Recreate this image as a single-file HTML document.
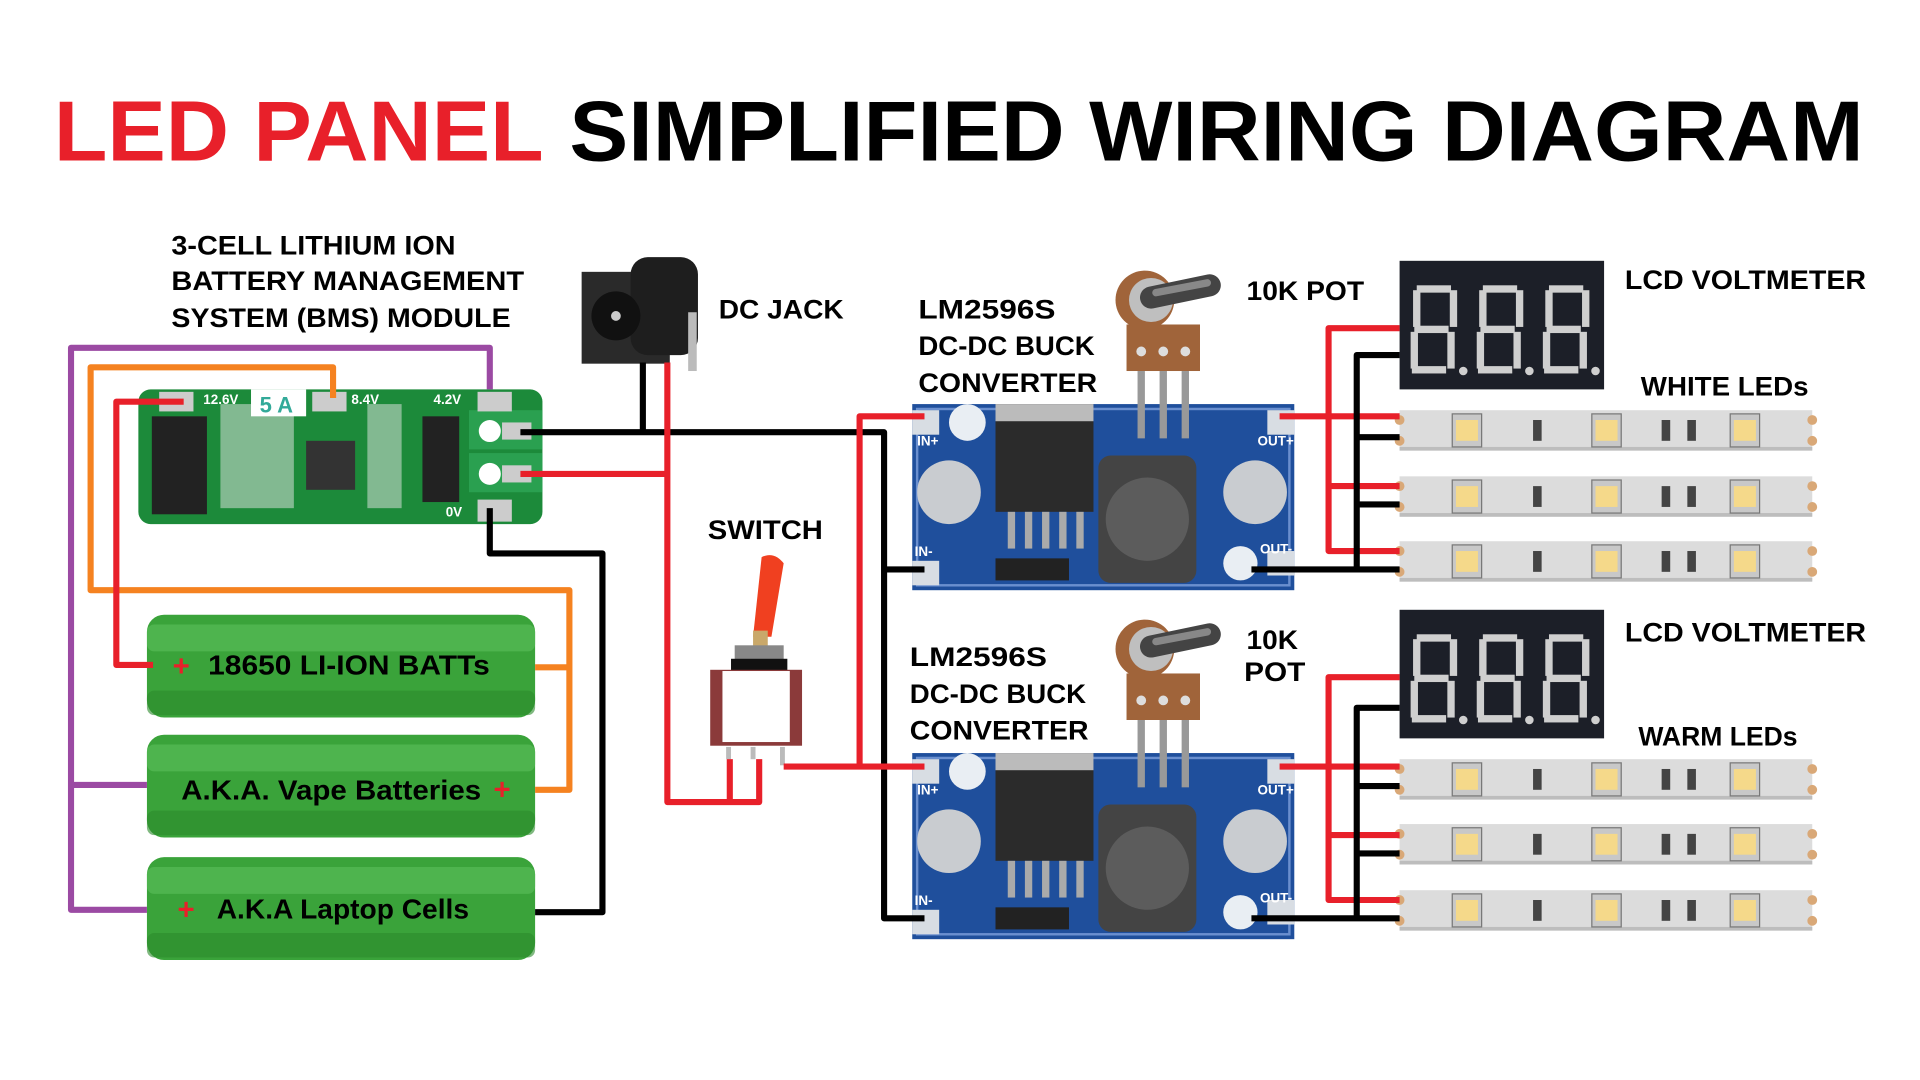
<!DOCTYPE html>
<html><head><meta charset="utf-8">
<style>
html,body{margin:0;padding:0;background:#fff;width:1920px;height:1080px;overflow:hidden}
svg{display:block}
text{font-family:"Liberation Sans",sans-serif;font-weight:bold}
</style></head><body>
<svg width="1920" height="1080" viewBox="0 0 1568 882" xmlns="http://www.w3.org/2000/svg">
<defs>
  <g id="digit">
    <rect x="6" y="0" width="28" height="6" fill="#cfcfcf"/>
    <rect x="4" y="33" width="28" height="6" fill="#cfcfcf"/>
    <rect x="2" y="66" width="28" height="6" fill="#cfcfcf"/>
    <rect x="3" y="4" width="6" height="30" fill="#cfcfcf"/>
    <rect x="33" y="4" width="6" height="30" fill="#cfcfcf"/>
    <rect x="1" y="38" width="6" height="30" fill="#cfcfcf"/>
    <rect x="31" y="38" width="6" height="30" fill="#cfcfcf"/>
    <circle cx="44" cy="70" r="3.5" fill="#cfcfcf"/>
  </g>
  <g id="lcd">
    <rect x="0" y="0" width="167" height="105" fill="#1c1f28"/>
    <use href="#digit" x="8" y="20"/>
    <use href="#digit" x="62" y="20"/>
    <use href="#digit" x="116" y="20"/>
  </g>
  <g id="strip">
    <rect x="0" y="0" width="337" height="33" fill="#dcdcdc"/>
    <rect x="0" y="30" width="337" height="3" fill="#bdbdbd"/>
    <circle cx="0" cy="8" r="4" fill="#d9a877"/><circle cx="0" cy="25" r="4" fill="#d9a877"/>
    <circle cx="337" cy="8" r="4" fill="#d9a877"/><circle cx="337" cy="25" r="4" fill="#d9a877"/>
    <rect x="43" y="3" width="24" height="27" fill="#c8c8c8" stroke="#777" stroke-width="1"/>
    <rect x="46" y="8" width="18" height="17" fill="#f5d98a"/>
    <rect x="157" y="3" width="24" height="27" fill="#c8c8c8" stroke="#777" stroke-width="1"/>
    <rect x="160" y="8" width="18" height="17" fill="#f5d98a"/>
    <rect x="270" y="3" width="24" height="27" fill="#c8c8c8" stroke="#777" stroke-width="1"/>
    <rect x="273" y="8" width="18" height="17" fill="#f5d98a"/>
    <rect x="109" y="8" width="7" height="17" fill="#444"/>
    <rect x="214" y="8" width="7" height="17" fill="#444"/>
    <rect x="235" y="8" width="7" height="17" fill="#444"/>
  </g>
  <g id="buck">
    <rect x="0" y="0" width="312" height="152" fill="#1f4f9c"/>
    <rect x="4" y="4" width="304" height="144" fill="none" stroke="#6a8fcf" stroke-width="2"/>
    <circle cx="45" cy="15" r="15" fill="#e9eef3"/>
    <circle cx="268" cy="130" r="14" fill="#e9eef3"/>
    <rect x="68" y="0" width="80" height="88" fill="#2b2b2b"/>
    <rect x="68" y="0" width="80" height="14" fill="#bbb"/>
    <rect x="78" y="88" width="6" height="30" fill="#aaa"/><rect x="92" y="88" width="6" height="30" fill="#aaa"/>
    <rect x="106" y="88" width="6" height="30" fill="#aaa"/><rect x="120" y="88" width="6" height="30" fill="#aaa"/>
    <rect x="134" y="88" width="6" height="30" fill="#aaa"/>
    <circle cx="30" cy="72" r="26" fill="#c9ccd0"/><circle cx="280" cy="72" r="26" fill="#c9ccd0"/>
    <rect x="152" y="42" width="80" height="104" rx="10" fill="#444"/>
    <circle cx="192" cy="94" r="34" fill="#5c5c5c"/>
    <rect x="68" y="126" width="60" height="18" fill="#222"/>
    <rect x="0" y="5" width="22" height="20" fill="#d8dde3"/>
    <rect x="290" y="5" width="22" height="20" fill="#d8dde3"/>
    <rect x="0" y="128" width="22" height="20" fill="#d8dde3"/>
    <rect x="290" y="120" width="22" height="20" fill="#d8dde3"/>
    <text x="4" y="34" font-size="11" fill="#fff">IN+</text>
    <text x="2" y="124" font-size="11" fill="#fff">IN-</text>
    <text x="282" y="34" font-size="11" fill="#fff">OUT+</text>
    <text x="284" y="122" font-size="11" fill="#fff">OUT-</text>
  </g>
  <g id="pot">
    <rect x="10" y="50" width="60" height="38" fill="#a0643a"/>
    <circle cx="25" cy="30" r="24" fill="#a0643a"/>
    <circle cx="30" cy="30" r="18" fill="#bfbfbf"/>
    <line x1="30" y1="28" x2="78" y2="18" stroke="#444" stroke-width="18" stroke-linecap="round"/>
    <line x1="34" y1="24" x2="76" y2="16" stroke="#888" stroke-width="6" stroke-linecap="round"/>
    <circle cx="22" cy="72" r="4" fill="#ddd"/><circle cx="40" cy="72" r="4" fill="#ddd"/><circle cx="58" cy="72" r="4" fill="#ddd"/>
    <rect x="19" y="88" width="6" height="55" fill="#999"/><rect x="37" y="88" width="6" height="55" fill="#999"/><rect x="55" y="88" width="6" height="55" fill="#999"/>
  </g>
  <g id="batt">
    <rect x="0" y="0" width="317" height="84" rx="14" fill="#3aa33a"/>
    <rect x="0" y="8" width="317" height="22" rx="6" fill="#5cc05c" opacity="0.6"/>
    <rect x="0" y="62" width="317" height="20" rx="6" fill="#2b8a2b" opacity="0.6"/>
  </g>
</defs>

<text x="44" y="131" font-size="70" fill="#e8202a" textLength="400" lengthAdjust="spacingAndGlyphs">LED PANEL</text>
<text x="465" y="131" font-size="70" fill="#000" textLength="1057" lengthAdjust="spacingAndGlyphs">SIMPLIFIED WIRING DIAGRAM</text>

<g font-size="22" fill="#000">
<text x="140" y="208" textLength="232" lengthAdjust="spacingAndGlyphs">3-CELL LITHIUM ION</text>
<text x="140" y="237" textLength="288" lengthAdjust="spacingAndGlyphs">BATTERY MANAGEMENT</text>
<text x="140" y="267" textLength="277" lengthAdjust="spacingAndGlyphs">SYSTEM (BMS) MODULE</text>
<text x="587" y="260" textLength="102" lengthAdjust="spacingAndGlyphs">DC JACK</text>
<text x="578" y="440" textLength="94" lengthAdjust="spacingAndGlyphs">SWITCH</text>
<text x="750" y="260" textLength="112" lengthAdjust="spacingAndGlyphs">LM2596S</text>
<text x="750" y="290" textLength="144" lengthAdjust="spacingAndGlyphs">DC-DC BUCK</text>
<text x="750" y="320" textLength="146" lengthAdjust="spacingAndGlyphs">CONVERTER</text>
<text x="743" y="544" textLength="112" lengthAdjust="spacingAndGlyphs">LM2596S</text>
<text x="743" y="574" textLength="144" lengthAdjust="spacingAndGlyphs">DC-DC BUCK</text>
<text x="743" y="604" textLength="146" lengthAdjust="spacingAndGlyphs">CONVERTER</text>
<text x="1018" y="245" textLength="96" lengthAdjust="spacingAndGlyphs">10K POT</text>
<text x="1018" y="530" textLength="42" lengthAdjust="spacingAndGlyphs">10K</text>
<text x="1016" y="556" textLength="50" lengthAdjust="spacingAndGlyphs">POT</text>
<text x="1327" y="236" textLength="197" lengthAdjust="spacingAndGlyphs">LCD VOLTMETER</text>
<text x="1340" y="323" textLength="137" lengthAdjust="spacingAndGlyphs">WHITE LEDs</text>
<text x="1327" y="524" textLength="197" lengthAdjust="spacingAndGlyphs">LCD VOLTMETER</text>
<text x="1338" y="609" textLength="130" lengthAdjust="spacingAndGlyphs">WARM LEDs</text>
</g>

<!-- BMS board -->
<rect x="113" y="318" width="330" height="110" rx="10" fill="#1c8a3a"/>
<rect x="124" y="340" width="45" height="80" fill="#222"/>
<rect x="250" y="360" width="40" height="40" fill="#333"/>
<rect x="180" y="330" width="60" height="85" fill="#e8e8e8" opacity="0.5"/>
<rect x="300" y="330" width="28" height="85" fill="#e8e8e8" opacity="0.5"/>
<rect x="205" y="318" width="45" height="22" fill="#fff"/>
<text x="212" y="337" font-size="18" fill="#3a9" font-weight="normal">5 A</text>
<rect x="345" y="340" width="30" height="70" fill="#222"/>
<rect x="383" y="335" width="60" height="32" fill="#2aa050"/>
<rect x="383" y="370" width="60" height="32" fill="#2aa050"/>
<circle cx="400" cy="352" r="9" fill="#fff"/><circle cx="400" cy="387" r="9" fill="#fff"/>
<rect x="410" y="345" width="24" height="14" fill="#ccc"/><rect x="410" y="380" width="24" height="14" fill="#ccc"/>
<rect x="130" y="320" width="28" height="16" fill="#ccc"/><rect x="255" y="320" width="28" height="16" fill="#ccc"/>
<rect x="390" y="320" width="28" height="16" fill="#ccc"/><rect x="390" y="408" width="28" height="18" fill="#ccc"/>
<g font-size="11" fill="#fff" font-weight="normal"><text x="166" y="330">12.6V</text><text x="287" y="330">8.4V</text><text x="354" y="330">4.2V</text><text x="364" y="422">0V</text></g>

<!-- DC jack -->
<rect x="475" y="222" width="72" height="75" fill="#2a2a2a"/>
<rect x="515" y="210" width="55" height="80" rx="14" fill="#1e1e1e"/>
<circle cx="503" cy="258" r="20" fill="#111"/><circle cx="503" cy="258" r="4" fill="#ccc"/>
<rect x="562" y="255" width="7" height="48" fill="#bbb"/>

<!-- Switch -->
<path d="M622 455 Q632 450 640 460 L630 520 L615 520 Z" fill="#f04020"/>
<rect x="615" y="515" width="12" height="15" fill="#c9a86a"/>
<rect x="600" y="527" width="40" height="14" fill="#888"/>
<rect x="597" y="538" width="46" height="10" fill="#111"/>
<rect x="580" y="547" width="75" height="62" fill="#8b3a3a"/>
<rect x="590" y="548" width="55" height="58" fill="#fff"/>
<rect x="593" y="610" width="4" height="10" fill="#bbb"/><rect x="613" y="610" width="4" height="10" fill="#bbb"/><rect x="637" y="610" width="4" height="15" fill="#bbb"/>

<use href="#buck" x="745" y="330"/>
<use href="#buck" x="745" y="615"/>
<use href="#pot" x="910" y="215"/>
<use href="#pot" x="910" y="500"/>

<use href="#lcd" x="1143" y="213"/>
<use href="#lcd" x="1143" y="498"/>

<use href="#strip" x="1143" y="335"/>
<use href="#strip" x="1143" y="389"/>
<use href="#strip" x="1143" y="442"/>
<use href="#strip" x="1143" y="620"/>
<use href="#strip" x="1143" y="673"/>
<use href="#strip" x="1143" y="727"/>

<use href="#batt" x="120" y="502"/>
<use href="#batt" x="120" y="600"/>
<use href="#batt" x="120" y="700"/>
<g font-size="23" fill="#000">
<text x="170" y="551" textLength="230" lengthAdjust="spacingAndGlyphs">18650 LI-ION BATTs</text>
<text x="148" y="653" textLength="245" lengthAdjust="spacingAndGlyphs">A.K.A. Vape Batteries</text>
<text x="177" y="750" textLength="206" lengthAdjust="spacingAndGlyphs">A.K.A Laptop Cells</text>
</g>
<g font-size="24" fill="#e8202a"><text x="141" y="552">+</text><text x="403" y="653">+</text><text x="145" y="751">+</text></g>

<g fill="none" stroke-width="5" stroke-linejoin="round">
<polyline stroke="#9b4aa3" points="400,318 400,284 58,284 58,743 120,743"/>
<polyline stroke="#9b4aa3" points="58,641 120,641"/>
<polyline stroke="#f58220" points="272,325 272,300 74,300 74,482 465,482 465,645 437,645"/>
<polyline stroke="#f58220" points="437,545 465,545"/>
<polyline stroke="#e8202a" points="150,328 95,328 95,543 125,543"/>
<polyline stroke="#000" points="400,415 400,452 492,452 492,745 437,745"/>
<polyline stroke="#000" points="525,296 525,353"/>
<polyline stroke="#000" points="425,353 722,353 722,750 755,750"/>
<polyline stroke="#000" points="722,465 755,465"/>
<polyline stroke="#e8202a" points="545,296 545,655 620,655 620,620"/>
<polyline stroke="#e8202a" points="425,387 545,387"/>
<polyline stroke="#e8202a" points="596,620 596,655"/>
<polyline stroke="#e8202a" points="640,626 755,626"/>
<polyline stroke="#e8202a" points="702,626 702,340 755,340"/>
<polyline stroke="#e8202a" points="1045,340 1143,340"/>
<polyline stroke="#e8202a" points="1143,268 1085,268 1085,450 1143,450"/>
<polyline stroke="#e8202a" points="1085,397 1143,397"/>
<polyline stroke="#000" points="1143,290 1108,290 1108,465"/>
<polyline stroke="#000" points="1022,465 1143,465"/>
<polyline stroke="#000" points="1108,357 1143,357"/>
<polyline stroke="#000" points="1108,412 1143,412"/>
<polyline stroke="#e8202a" points="1045,626 1143,626"/>
<polyline stroke="#e8202a" points="1143,553 1085,553 1085,735 1143,735"/>
<polyline stroke="#e8202a" points="1085,682 1143,682"/>
<polyline stroke="#000" points="1143,578 1108,578 1108,750"/>
<polyline stroke="#000" points="1022,750 1143,750"/>
<polyline stroke="#000" points="1108,642 1143,642"/>
<polyline stroke="#000" points="1108,697 1143,697"/>
</g>
</svg>
</body></html>
